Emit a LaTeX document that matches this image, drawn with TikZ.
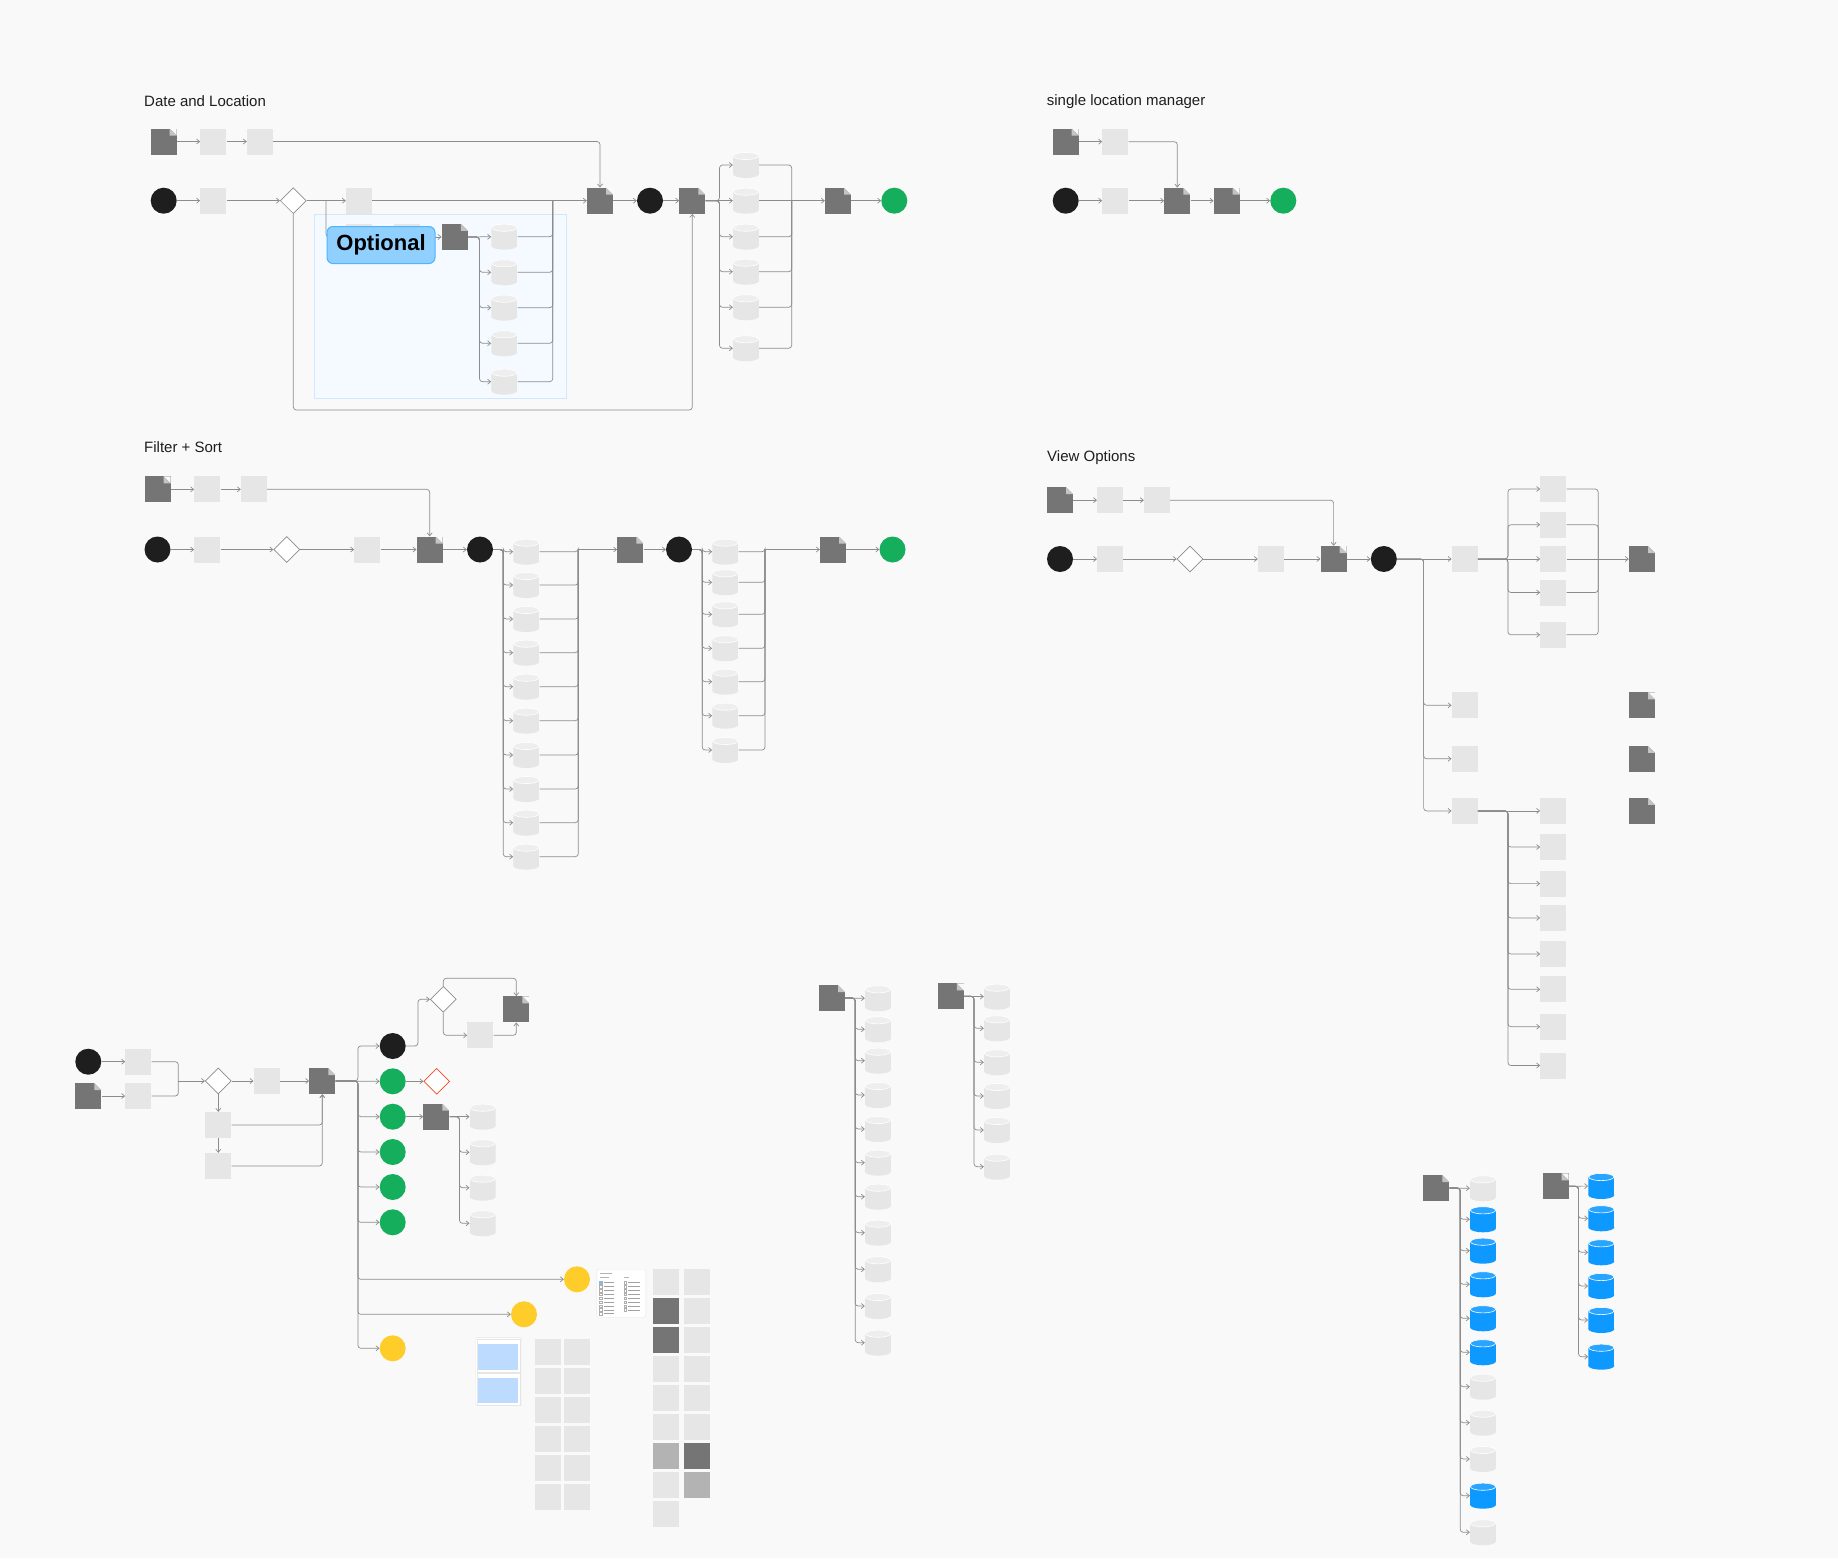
\documentclass[tikz,border=0pt]{standalone}
\usepackage{fontspec}
\setmainfont{Liberation Sans}
\usetikzlibrary{arrows.meta,positioning,shapes.geometric}

\definecolor{bgc}{HTML}{F9F9F9}
\definecolor{pagegrey}{HTML}{757575}
\definecolor{foldgrey}{HTML}{C4C4C4}
\definecolor{boxgrey}{HTML}{E6E6E6}
\definecolor{capgrey}{HTML}{EEEEEE}
\definecolor{midgrey}{HTML}{B3B3B3}
\definecolor{inkblack}{HTML}{1E1E1E}
\definecolor{figgreen}{HTML}{14AE5C}
\definecolor{figyellow}{HTML}{FFCD29}
\definecolor{figblue}{HTML}{0D99FF}
\definecolor{capblue}{HTML}{2AA5FF}
\definecolor{figred}{HTML}{F24822}
\definecolor{wirec}{HTML}{8C8C8C}
\definecolor{optfill}{HTML}{8FD0FF}
\definecolor{optline}{HTML}{4DB5FF}
\definecolor{zonefill}{HTML}{F4FAFF}
\definecolor{zoneline}{HTML}{CFE8FF}
\definecolor{listblue}{HTML}{BDDAFF}

\begin{document}
\begin{tikzpicture}[x=1pt, y=-1pt,
    >={Straight Barb[length=3pt,width=5pt]},
    wire/.style={draw=wirec, line width=0.7pt, rounded corners=3pt},
    page/.style={fill=pagegrey, minimum size=26pt, inner sep=0pt,
      path picture={
        \fill[bgc] ([xshift=-7pt]path picture bounding box.north east) -- (path picture bounding box.north east) -- ([yshift=-7pt]path picture bounding box.north east) -- cycle;
        \fill[foldgrey] ([xshift=-7pt]path picture bounding box.north east) -- ([xshift=-7pt,yshift=-7pt]path picture bounding box.north east) -- ([yshift=-7pt]path picture bounding box.north east) -- cycle;}},
    box/.style={fill=boxgrey, minimum size=26pt, inner sep=0pt},
    darkbox/.style={box, fill=pagegrey},
    midbox/.style={box, fill=midgrey},
    startc/.style={circle, fill=inkblack, minimum size=26pt, inner sep=0pt},
    endc/.style={circle, fill=figgreen, minimum size=26pt, inner sep=0pt},
    warnc/.style={circle, fill=figyellow, minimum size=26pt, inner sep=0pt},
    decide/.style={diamond, draw=wirec, fill=white, line width=0.7pt, minimum size=26pt, inner sep=0pt},
    cyl/.style 2 args={rectangle, minimum size=26pt, inner sep=0pt, fill=bgc,
      path picture={
        \fill[#1] ([yshift=-4pt]path picture bounding box.north west) rectangle ([yshift=4pt]path picture bounding box.south east);
        \fill[#1] ([yshift=4pt]path picture bounding box.south) ellipse [x radius=13pt, y radius=4pt];
        \filldraw[fill=#2, draw=white, line width=0.6pt] ([yshift=-4pt]path picture bounding box.north) ellipse [x radius=12.6pt, y radius=3.6pt];}},
    store/.style={cyl={boxgrey}{capgrey}},
    zonestore/.style={cyl={boxgrey}{capgrey}, fill=zonefill},
    bluestore/.style={cyl={figblue}{capblue}},
    title/.style={anchor=west, inner sep=0pt, text=inkblack, font=\fontsize{15}{18}\selectfont},
    badge/.style={draw=optline, fill=optfill, line width=1pt, rounded corners=6pt, minimum width=108pt, minimum height=37pt, font=\bfseries\fontsize{22}{26}\selectfont}
  ]
  \fill[bgc] (0,0) rectangle (1838,1558);

  % ---------------- Date and Location
  \node[title] (dl-t) at (144,101) {Date and Location};
  \fill[zonefill, draw=zoneline, line width=0.6pt] (314.3,214.3) rectangle (566.7,398.3);

  \node[page] (dl-p0) at (163.7,141.5) {};
  \node[box] (dl-b1) at (213.3,141.5) {};
  \node[box] (dl-b2) at (260,141.5) {};
  \node[startc] (dl-s) at (163.7,200.7) {};
  \node[box] (dl-b3) at (213.3,200.7) {};
  \node[decide] (dl-dec) at (293.3,200.7) {};
  \node[box] (dl-b4) at (359,200.7) {};
  \node[page] (dl-p1) at (600,200.7) {};
  \node[startc] (dl-k) at (650,200.7) {};
  \node[page] (dl-p2) at (692.3,200.7) {};
  \node[store] (dl-c1) at (746,165) {};
  \node[store] (dl-c2) at (746,200.7) {};
  \node[store] (dl-c3) at (746,236.7) {};
  \node[store] (dl-c4) at (746,271.7) {};
  \node[store] (dl-c5) at (746,307.3) {};
  \node[store] (dl-c6) at (746,348.3) {};
  \node[page] (dl-p3) at (838,200.7) {};
  \node[endc] (dl-e) at (894.3,200.7) {};
  \node[box] (dl-o1) at (359,237) {};
  \node[box] (dl-o2) at (406.7,237) {};
  \node[page, path picture={}] (dl-o3) at (454.7,237) {};
  \fill[zonefill] (dl-o3.north east) -- ++(-7pt,0) -- ++(7pt,-7pt) -- cycle;
  \fill[foldgrey] ([xshift=-7pt]dl-o3.north east) -- ++(0,-7pt) -- ++(7pt,0) -- cycle;
  \node[zonestore] (dl-d1) at (504.3,236.7) {};
  \node[zonestore] (dl-d2) at (504.3,272.3) {};
  \node[zonestore] (dl-d3) at (504.3,307.7) {};
  \node[zonestore] (dl-d4) at (504.3,343.3) {};
  \node[zonestore] (dl-d5) at (504.3,381.7) {};
  \coordinate (dl-fork) at (326,200.7);
  \coordinate (dl-n) at (552.7,200.7);
  \coordinate (dl-m) at (791.7,200.7);
  \coordinate (dl-loop) at (692.3,410);

  \draw[wire,->] (dl-p0) -- (dl-b1);
  \draw[wire,->] (dl-b1) -- (dl-b2);
  \draw[wire,->] (dl-b2.east) -| (dl-p1.north);
  \draw[wire,->] (dl-s) -- (dl-b3);
  \draw[wire,->] (dl-b3) -- (dl-dec);
  \draw[wire,->] (dl-dec) -- (dl-b4);
  \draw[wire,->] (dl-b4) -- (dl-p1);
  \draw[wire,->] (dl-p1) -- (dl-k);
  \draw[wire,->] (dl-k) -- (dl-p2);
  \draw[wire,->] (dl-dec.south) |- (dl-loop) -- (dl-p2.south);
  \draw[wire,->] (dl-fork) |- (dl-o1);
  \draw[wire,->] (dl-o1) -- (dl-o2);
  \draw[wire,->] (dl-o2) -- (dl-o3);
  \draw[wire,->] (dl-o3) -- (dl-d1);
  \draw[wire,->] (dl-o3.east) -- ++(11.6,0) |- (dl-d2);
  \draw[wire,->] (dl-o3.east) -- ++(11.6,0) |- (dl-d3);
  \draw[wire,->] (dl-o3.east) -- ++(11.6,0) |- (dl-d4);
  \draw[wire,->] (dl-o3.east) -- ++(11.6,0) |- (dl-d5);
  \draw[wire] (dl-d1) -| (dl-n);
  \draw[wire] (dl-d2) -| (dl-n);
  \draw[wire] (dl-d3) -| (dl-n);
  \draw[wire] (dl-d4) -| (dl-n);
  \draw[wire] (dl-d5) -| (dl-n);
  \draw[wire,->] (dl-p2.east) -- ++(14,0) |- (dl-c1);
  \draw[wire,->] (dl-p2) -- (dl-c2);
  \draw[wire,->] (dl-p2.east) -- ++(14,0) |- (dl-c3);
  \draw[wire,->] (dl-p2.east) -- ++(14,0) |- (dl-c4);
  \draw[wire,->] (dl-p2.east) -- ++(14,0) |- (dl-c5);
  \draw[wire,->] (dl-p2.east) -- ++(14,0) |- (dl-c6);
  \draw[wire] (dl-c1) -| (dl-m);
  \draw[wire] (dl-c2) -- (dl-m);
  \draw[wire] (dl-c3) -| (dl-m);
  \draw[wire] (dl-c4) -| (dl-m);
  \draw[wire] (dl-c5) -| (dl-m);
  \draw[wire] (dl-c6) -| (dl-m);
  \draw[wire,->] (dl-m) -- (dl-p3);
  \draw[wire,->] (dl-p3) -- (dl-e);
  \node[badge] (dl-opt) at (381,245) {Optional};

  % ---------------- single location manager
  \node[title] (sl-t) at (1046.7,101.7) {single location manager};
  \node[page] (sl-p0) at (1065.7,141.7) {};
  \node[box] (sl-b1) at (1115.3,141.7) {};
  \node[startc] (sl-s) at (1065.7,200.7) {};
  \node[box] (sl-b2) at (1115.3,200.7) {};
  \node[page] (sl-p1) at (1177.3,200.7) {};
  \node[page] (sl-p2) at (1226.7,200.7) {};
  \node[endc] (sl-e) at (1283.3,200.7) {};
  \draw[wire,->] (sl-p0) -- (sl-b1);
  \draw[wire,->] (sl-b1.east) -| (sl-p1.north);
  \draw[wire,->] (sl-s) -- (sl-b2);
  \draw[wire,->] (sl-b2) -- (sl-p1);
  \draw[wire,->] (sl-p1) -- (sl-p2);
  \draw[wire,->] (sl-p2) -- (sl-e);

  % ---------------- Filter + Sort
  \node[title] (fs-t) at (144,447.3) {Filter + Sort};
  \node[page] (fs-p0) at (157.5,489.3) {};
  \node[box] (fs-b1) at (207.3,489.3) {};
  \node[box] (fs-b2) at (254,489.3) {};
  \node[startc] (fs-s) at (157.5,549.5) {};
  \node[box] (fs-b3) at (207.3,549.5) {};
  \node[decide] (fs-dec) at (286.7,549.5) {};
  \node[box] (fs-b4) at (367.3,549.5) {};
  \node[page] (fs-p1) at (429.7,549.5) {};
  \node[startc] (fs-k) at (480,549.5) {};
  \node[store] (fs-c1) at (526.3,551.7) {};
  \node[store] (fs-c2) at (526.3,585) {};
  \node[store] (fs-c3) at (526.3,619) {};
  \node[store] (fs-c4) at (526.3,652.7) {};
  \node[store] (fs-c5) at (526.3,686.7) {};
  \node[store] (fs-c6) at (526.3,720.7) {};
  \node[store] (fs-c7) at (526.3,755) {};
  \node[store] (fs-c8) at (526.3,789) {};
  \node[store] (fs-c9) at (526.3,822.7) {};
  \node[store] (fs-c10) at (526.3,856.7) {};
  \coordinate (fs-m) at (578.3,549.5);
  \node[page] (fs-p2) at (630.3,549.5) {};
  \node[startc] (fs-k2) at (679,549.5) {};
  \node[store] (fs-d1) at (725.3,551.7) {};
  \node[store] (fs-d2) at (725.3,582.3) {};
  \node[store] (fs-d3) at (725.3,614.3) {};
  \node[store] (fs-d4) at (725.3,648.3) {};
  \node[store] (fs-d5) at (725.3,681.7) {};
  \node[store] (fs-d6) at (725.3,715.7) {};
  \node[store] (fs-d7) at (725.3,750) {};
  \coordinate (fs-n) at (765,549.5);
  \node[page] (fs-p3) at (833,549.5) {};
  \node[endc] (fs-e) at (892.5,549.5) {};

  \draw[wire,->] (fs-p0) -- (fs-b1);
  \draw[wire,->] (fs-b1) -- (fs-b2);
  \draw[wire,->] (fs-b2.east) -| (fs-p1.north);
  \draw[wire,->] (fs-s) -- (fs-b3);
  \draw[wire,->] (fs-b3) -- (fs-dec);
  \draw[wire,->] (fs-dec) -- (fs-b4);
  \draw[wire,->] (fs-b4) -- (fs-p1);
  \draw[wire,->] (fs-p1) -- (fs-k);
  \draw[wire,->] (fs-k.east) -- ++(10,0) |- (fs-c1);
  \draw[wire,->] (fs-k.east) -- ++(10,0) |- (fs-c2);
  \draw[wire,->] (fs-k.east) -- ++(10,0) |- (fs-c3);
  \draw[wire,->] (fs-k.east) -- ++(10,0) |- (fs-c4);
  \draw[wire,->] (fs-k.east) -- ++(10,0) |- (fs-c5);
  \draw[wire,->] (fs-k.east) -- ++(10,0) |- (fs-c6);
  \draw[wire,->] (fs-k.east) -- ++(10,0) |- (fs-c7);
  \draw[wire,->] (fs-k.east) -- ++(10,0) |- (fs-c8);
  \draw[wire,->] (fs-k.east) -- ++(10,0) |- (fs-c9);
  \draw[wire,->] (fs-k.east) -- ++(10,0) |- (fs-c10);
  \draw[wire] (fs-c1) -| (fs-m);
  \draw[wire] (fs-c2) -| (fs-m);
  \draw[wire] (fs-c3) -| (fs-m);
  \draw[wire] (fs-c4) -| (fs-m);
  \draw[wire] (fs-c5) -| (fs-m);
  \draw[wire] (fs-c6) -| (fs-m);
  \draw[wire] (fs-c7) -| (fs-m);
  \draw[wire] (fs-c8) -| (fs-m);
  \draw[wire] (fs-c9) -| (fs-m);
  \draw[wire] (fs-c10) -| (fs-m);
  \draw[wire,->] (fs-m) -- (fs-p2);
  \draw[wire,->] (fs-p2) -- (fs-k2);
  \draw[wire,->] (fs-k2.east) -- ++(10,0) |- (fs-d1);
  \draw[wire,->] (fs-k2.east) -- ++(10,0) |- (fs-d2);
  \draw[wire,->] (fs-k2.east) -- ++(10,0) |- (fs-d3);
  \draw[wire,->] (fs-k2.east) -- ++(10,0) |- (fs-d4);
  \draw[wire,->] (fs-k2.east) -- ++(10,0) |- (fs-d5);
  \draw[wire,->] (fs-k2.east) -- ++(10,0) |- (fs-d6);
  \draw[wire,->] (fs-k2.east) -- ++(10,0) |- (fs-d7);
  \draw[wire] (fs-d1) -| (fs-n);
  \draw[wire] (fs-d2) -| (fs-n);
  \draw[wire] (fs-d3) -| (fs-n);
  \draw[wire] (fs-d4) -| (fs-n);
  \draw[wire] (fs-d5) -| (fs-n);
  \draw[wire] (fs-d6) -| (fs-n);
  \draw[wire] (fs-d7) -| (fs-n);
  \draw[wire,->] (fs-n) -- (fs-p3);
  \draw[wire,->] (fs-p3) -- (fs-e);

  % ---------------- View Options
  \node[title] (vo-t) at (1047,457.8) {View Options};
  \node[page] (vo-p0) at (1060,500.2) {};
  \node[box] (vo-b1) at (1110.2,500.2) {};
  \node[box] (vo-b2) at (1157,500.2) {};
  \node[startc] (vo-s) at (1060,559) {};
  \node[box] (vo-b3) at (1110.2,559) {};
  \node[decide] (vo-dec) at (1190,559) {};
  \node[box] (vo-b4) at (1271,559) {};
  \node[page] (vo-p1) at (1333.6,559) {};
  \node[startc] (vo-k) at (1383.8,559) {};
  \node[box] (vo-m1) at (1464.7,559) {};
  \node[box] (vo-m2) at (1464.7,705.3) {};
  \node[box] (vo-m3) at (1464.7,758.8) {};
  \node[box] (vo-m4) at (1464.7,810.9) {};
  \node[box] (vo-a1) at (1553.3,489) {};
  \node[box] (vo-a2) at (1553.3,524.7) {};
  \node[box] (vo-a3) at (1553.3,559) {};
  \node[box] (vo-a4) at (1553.3,592.5) {};
  \node[box] (vo-a5) at (1553.3,634.8) {};
  \coordinate (vo-n) at (1598.2,559);
  \node[page] (vo-pa) at (1642,559) {};
  \node[page] (vo-pb) at (1642,705.3) {};
  \node[page] (vo-pc) at (1642,758.8) {};
  \node[page] (vo-pd) at (1642,810.9) {};
  \node[box] (vo-c1) at (1553.3,810.9) {};
  \node[box] (vo-c2) at (1553.3,847) {};
  \node[box] (vo-c3) at (1553.3,883.6) {};
  \node[box] (vo-c4) at (1553.3,917.9) {};
  \node[box] (vo-c5) at (1553.3,954) {};
  \node[box] (vo-c6) at (1553.3,989.3) {};
  \node[box] (vo-c7) at (1553.3,1026.7) {};
  \node[box] (vo-c8) at (1553.3,1065.5) {};

  \draw[wire,->] (vo-p0) -- (vo-b1);
  \draw[wire,->] (vo-b1) -- (vo-b2);
  \draw[wire,->] (vo-b2.east) -| (vo-p1.north);
  \draw[wire,->] (vo-s) -- (vo-b3);
  \draw[wire,->] (vo-b3) -- (vo-dec);
  \draw[wire,->] (vo-dec) -- (vo-b4);
  \draw[wire,->] (vo-b4) -- (vo-p1);
  \draw[wire,->] (vo-p1) -- (vo-k);
  \draw[wire,->] (vo-k) -- (vo-m1);
  \draw[wire,->] (vo-k.east) -- ++(26.6,0) |- (vo-m2);
  \draw[wire,->] (vo-k.east) -- ++(26.6,0) |- (vo-m3);
  \draw[wire,->] (vo-k.east) -- ++(26.6,0) |- (vo-m4);
  \draw[wire,->] (vo-m1.east) -- ++(30,0) |- (vo-a1);
  \draw[wire,->] (vo-m1.east) -- ++(30,0) |- (vo-a2);
  \draw[wire,->] (vo-m1) -- (vo-a3);
  \draw[wire,->] (vo-m1.east) -- ++(30,0) |- (vo-a4);
  \draw[wire,->] (vo-m1.east) -- ++(30,0) |- (vo-a5);
  \draw[wire] (vo-a1) -| (vo-n);
  \draw[wire] (vo-a2) -| (vo-n);
  \draw[wire] (vo-a3) -- (vo-n);
  \draw[wire] (vo-a4) -| (vo-n);
  \draw[wire] (vo-a5) -| (vo-n);
  \draw[wire,->] (vo-n) -- (vo-pa);
  \draw[wire,->] (vo-m4) -- (vo-c1);
  \draw[wire,->] (vo-m4.east) -- ++(30,0) |- (vo-c2);
  \draw[wire,->] (vo-m4.east) -- ++(30,0) |- (vo-c3);
  \draw[wire,->] (vo-m4.east) -- ++(30,0) |- (vo-c4);
  \draw[wire,->] (vo-m4.east) -- ++(30,0) |- (vo-c5);
  \draw[wire,->] (vo-m4.east) -- ++(30,0) |- (vo-c6);
  \draw[wire,->] (vo-m4.east) -- ++(30,0) |- (vo-c7);
  \draw[wire,->] (vo-m4.east) -- ++(30,0) |- (vo-c8);

  % ---------------- bottom flow
  \node[startc] (bl-s) at (88.3,1061.7) {};
  \node[page] (bl-p0) at (88.3,1096) {};
  \node[box] (bl-b1) at (138.3,1061.7) {};
  \node[box] (bl-b2) at (138.3,1096) {};
  \coordinate (bl-j) at (178.3,1081);
  \node[decide] (bl-dec) at (218.3,1081) {};
  \node[box] (bl-b3) at (266.7,1081) {};
  \node[page] (bl-p1) at (322.3,1081) {};
  \node[box] (bl-b4) at (218.3,1125) {};
  \node[box] (bl-b5) at (218.3,1166) {};
  \node[startc] (bl-k) at (392.7,1046) {};
  \node[endc] (bl-g1) at (392.7,1081.3) {};
  \node[endc] (bl-g2) at (392.7,1116.7) {};
  \node[endc] (bl-g3) at (392.7,1152) {};
  \node[endc] (bl-g4) at (392.7,1187) {};
  \node[endc] (bl-g5) at (392.7,1222.3) {};
  \node[warnc] (bl-y1) at (577,1279.3) {};
  \node[warnc] (bl-y2) at (524,1314.3) {};
  \node[warnc] (bl-y3) at (392.7,1348.3) {};
  \node[decide] (bl-dec2) at (443.3,999.3) {};
  \node[page] (bl-p2) at (516.3,1009.3) {};
  \node[box] (bl-b6) at (480.3,1035.3) {};
  \node[decide, draw=figred] (bl-r) at (436.7,1081.3) {};
  \node[page] (bl-p3) at (436.3,1116.7) {};
  \node[store] (bl-c1) at (482.7,1116.7) {};
  \node[store] (bl-c2) at (482.7,1152.3) {};
  \node[store] (bl-c3) at (482.7,1187.7) {};
  \node[store] (bl-c4) at (482.7,1223.3) {};

  \draw[wire,->] (bl-s) -- (bl-b1);
  \draw[wire,->] (bl-p0) -- (bl-b2);
  \draw[wire] (bl-b1) -| (bl-j);
  \draw[wire] (bl-b2) -| (bl-j);
  \draw[wire,->] (bl-j) -- (bl-dec);
  \draw[wire,->] (bl-dec) -- (bl-b3);
  \draw[wire,->] (bl-b3) -- (bl-p1);
  \draw[wire,->] (bl-dec) -- (bl-b4);
  \draw[wire,->] (bl-b4) -- (bl-b5);
  \draw[wire,->] (bl-b4.east) -| (bl-p1.south);
  \draw[wire,->] (bl-b5.east) -| (bl-p1.south);
  \draw[wire,->] (bl-p1.east) -- ++(22.4,0) |- (bl-k);
  \draw[wire,->] (bl-p1) -- (bl-g1);
  \draw[wire,->] (bl-p1.east) -- ++(22.4,0) |- (bl-g2);
  \draw[wire,->] (bl-p1.east) -- ++(22.4,0) |- (bl-g3);
  \draw[wire,->] (bl-p1.east) -- ++(22.4,0) |- (bl-g4);
  \draw[wire,->] (bl-p1.east) -- ++(22.4,0) |- (bl-g5);
  \draw[wire,->] (bl-p1.east) -- ++(22.4,0) |- (bl-y1);
  \draw[wire,->] (bl-p1.east) -- ++(22.4,0) |- (bl-y2);
  \draw[wire,->] (bl-p1.east) -- ++(22.4,0) |- (bl-y3);
  \draw[wire,->] (bl-k.east) -- ++(12,0) |- (bl-dec2);
  \draw[wire,->] (bl-dec2.north) -- ++(0,-7.7) -| (bl-p2.north);
  \draw[wire,->] (bl-dec2.south) |- (bl-b6);
  \draw[wire,->] (bl-b6.east) -| (bl-p2.south);
  \draw[wire,->] (bl-g1) -- (bl-r);
  \draw[wire,->] (bl-g2) -- (bl-p3);
  \draw[wire,->] (bl-p3) -- (bl-c1);
  \draw[wire,->] (bl-p3.east) -- ++(10,0) |- (bl-c2);
  \draw[wire,->] (bl-p3.east) -- ++(10,0) |- (bl-c3);
  \draw[wire,->] (bl-p3.east) -- ++(10,0) |- (bl-c4);

  % checkbox card
  \node[draw=boxgrey, fill=white, rounded corners=1.5pt, minimum width=49pt, minimum height=48pt, inner sep=0pt] (bl-card) at (621.3,1293.2) {};
  \fill[midgrey] (599.5,1272.5) rectangle ++(12,1);
  \fill[midgrey] (599.5,1276.5) rectangle ++(9,1);
  \fill[midgrey] (624,1276.5) rectangle ++(5,1);
  \foreach \r in {0,...,8} {
    \draw[wirec!70, line width=0.3pt] (599.5,1281.3+3.9*\r) rectangle ++(2.6,2.6);
    \fill[boxgrey!70!black] (603.5,1282.2+3.9*\r) rectangle ++(10,0.8);
  }
  \fill[figblue!60] (599.5,1281.3) rectangle ++(2.6,2.6);
  \foreach \r in {0,...,7} {
    \draw[wirec!70, line width=0.3pt] (623.8,1281.3+3.9*\r) rectangle ++(2.6,2.6);
    \fill[boxgrey!70!black] (627.8,1282.2+3.9*\r) rectangle ++(12,0.8);
  }

  % list card
  \node[draw=boxgrey, fill=white, rounded corners=1.5pt, minimum width=46pt, minimum height=68.4pt, inner sep=0pt] (bl-list) at (498.7,1371.5) {};
  \draw[boxgrey, fill=white] (477.3,1339) rectangle (520,1371.7);
  \fill[listblue] (478.3,1344.3) rectangle (518.3,1370);
  \draw[boxgrey, fill=white] (477.3,1373.3) rectangle (520,1405);
  \fill[listblue] (478.3,1377.7) rectangle (518.3,1402.7);

  % sort grid
  \node[box] (sg-a1) at (548.3,1351.7) {};
  \node[box] (sg-b1) at (577.3,1351.7) {};
  \node[box] (sg-a2) at (548.3,1380.7) {};
  \node[box] (sg-b2) at (577.3,1380.7) {};
  \node[box] (sg-a3) at (548.3,1410) {};
  \node[box] (sg-b3) at (577.3,1410) {};
  \node[box] (sg-a4) at (548.3,1439) {};
  \node[box] (sg-b4) at (577.3,1439) {};
  \node[box] (sg-a5) at (548.3,1468.3) {};
  \node[box] (sg-b5) at (577.3,1468.3) {};
  \node[box] (sg-a6) at (548.3,1497.3) {};
  \node[box] (sg-b6) at (577.3,1497.3) {};

  % view grid
  \node[box] (vg-a1) at (666,1281.7) {};
  \node[darkbox] (vg-a2) at (666,1310.7) {};
  \node[darkbox] (vg-a3) at (666,1340) {};
  \node[box] (vg-a4) at (666,1369) {};
  \node[box] (vg-a5) at (666,1398.3) {};
  \node[box] (vg-a6) at (666,1427.3) {};
  \node[midbox] (vg-a7) at (666,1456) {};
  \node[box] (vg-a8) at (666,1485.3) {};
  \node[box] (vg-a9) at (666,1514.3) {};
  \node[box] (vg-b1) at (697.3,1281.7) {};
  \node[box] (vg-b2) at (697.3,1310.7) {};
  \node[box] (vg-b3) at (697.3,1340) {};
  \node[box] (vg-b4) at (697.3,1369) {};
  \node[box] (vg-b5) at (697.3,1398.3) {};
  \node[box] (vg-b6) at (697.3,1427.3) {};
  \node[darkbox] (vg-b7) at (697.3,1456) {};
  \node[midbox] (vg-b8) at (697.3,1485.3) {};

  % ---------------- middle lists
  \node[page] (ls-p1) at (832,998) {};
  \node[store] (ls-c1) at (878,998.3) {};
  \node[store] (ls-c2) at (878,1029.3) {};
  \node[store] (ls-c3) at (878,1060.7) {};
  \node[store] (ls-c4) at (878,1095) {};
  \node[store] (ls-c5) at (878,1129) {};
  \node[store] (ls-c6) at (878,1162.7) {};
  \node[store] (ls-c7) at (878,1196.7) {};
  \node[store] (ls-c8) at (878,1232.7) {};
  \node[store] (ls-c9) at (878,1269.3) {};
  \node[store] (ls-c10) at (878,1306) {};
  \node[store] (ls-c11) at (878,1342.7) {};
  \draw[wire,->] (ls-p1) -- (ls-c1);
  \draw[wire,->] (ls-p1.east) -- ++(10,0) |- (ls-c2);
  \draw[wire,->] (ls-p1.east) -- ++(10,0) |- (ls-c3);
  \draw[wire,->] (ls-p1.east) -- ++(10,0) |- (ls-c4);
  \draw[wire,->] (ls-p1.east) -- ++(10,0) |- (ls-c5);
  \draw[wire,->] (ls-p1.east) -- ++(10,0) |- (ls-c6);
  \draw[wire,->] (ls-p1.east) -- ++(10,0) |- (ls-c7);
  \draw[wire,->] (ls-p1.east) -- ++(10,0) |- (ls-c8);
  \draw[wire,->] (ls-p1.east) -- ++(10,0) |- (ls-c9);
  \draw[wire,->] (ls-p1.east) -- ++(10,0) |- (ls-c10);
  \draw[wire,->] (ls-p1.east) -- ++(10,0) |- (ls-c11);

  \node[page] (ls-p2) at (950.8,996.3) {};
  \node[store] (ls-d1) at (997,996.7) {};
  \node[store] (ls-d2) at (997,1028.3) {};
  \node[store] (ls-d3) at (997,1062.3) {};
  \node[store] (ls-d4) at (997,1096) {};
  \node[store] (ls-d5) at (997,1130) {};
  \node[store] (ls-d6) at (997,1166.7) {};
  \draw[wire,->] (ls-p2) -- (ls-d1);
  \draw[wire,->] (ls-p2.east) -- ++(10,0) |- (ls-d2);
  \draw[wire,->] (ls-p2.east) -- ++(10,0) |- (ls-d3);
  \draw[wire,->] (ls-p2.east) -- ++(10,0) |- (ls-d4);
  \draw[wire,->] (ls-p2.east) -- ++(10,0) |- (ls-d5);
  \draw[wire,->] (ls-p2.east) -- ++(10,0) |- (ls-d6);

  % ---------------- right lists
  \node[page] (rs-p1) at (1436.3,1188) {};
  \node[store] (rs-c1) at (1483,1188.3) {};
  \node[bluestore] (rs-c2) at (1483,1219.3) {};
  \node[bluestore] (rs-c3) at (1483,1250.7) {};
  \node[bluestore] (rs-c4) at (1483,1284.3) {};
  \node[bluestore] (rs-c5) at (1483,1318.3) {};
  \node[bluestore] (rs-c6) at (1483,1352.3) {};
  \node[store] (rs-c7) at (1483,1386.7) {};
  \node[store] (rs-c8) at (1483,1422.7) {};
  \node[store] (rs-c9) at (1483,1459) {};
  \node[bluestore] (rs-c10) at (1483,1495.7) {};
  \node[store] (rs-c11) at (1483,1532.3) {};
  \draw[wire,->] (rs-p1) -- (rs-c1);
  \draw[wire,->] (rs-p1.east) -- ++(10.7,0) |- (rs-c2);
  \draw[wire,->] (rs-p1.east) -- ++(10.7,0) |- (rs-c3);
  \draw[wire,->] (rs-p1.east) -- ++(10.7,0) |- (rs-c4);
  \draw[wire,->] (rs-p1.east) -- ++(10.7,0) |- (rs-c5);
  \draw[wire,->] (rs-p1.east) -- ++(10.7,0) |- (rs-c6);
  \draw[wire,->] (rs-p1.east) -- ++(10.7,0) |- (rs-c7);
  \draw[wire,->] (rs-p1.east) -- ++(10.7,0) |- (rs-c8);
  \draw[wire,->] (rs-p1.east) -- ++(10.7,0) |- (rs-c9);
  \draw[wire,->] (rs-p1.east) -- ++(10.7,0) |- (rs-c10);
  \draw[wire,->] (rs-p1.east) -- ++(10.7,0) |- (rs-c11);

  \node[page] (rs-p2) at (1555.7,1186.3) {};
  \node[bluestore] (rs-d1) at (1601.3,1186) {};
  \node[bluestore] (rs-d2) at (1601.3,1218.3) {};
  \node[bluestore] (rs-d3) at (1601.3,1252.3) {};
  \node[bluestore] (rs-d4) at (1601.3,1286) {};
  \node[bluestore] (rs-d5) at (1601.3,1320) {};
  \node[bluestore] (rs-d6) at (1601.3,1356.7) {};
  \draw[wire,->] (rs-p2) -- (rs-d1);
  \draw[wire,->] (rs-p2.east) -- ++(9.6,0) |- (rs-d2);
  \draw[wire,->] (rs-p2.east) -- ++(9.6,0) |- (rs-d3);
  \draw[wire,->] (rs-p2.east) -- ++(9.6,0) |- (rs-d4);
  \draw[wire,->] (rs-p2.east) -- ++(9.6,0) |- (rs-d5);
  \draw[wire,->] (rs-p2.east) -- ++(9.6,0) |- (rs-d6);
\end{tikzpicture}
\end{document}
